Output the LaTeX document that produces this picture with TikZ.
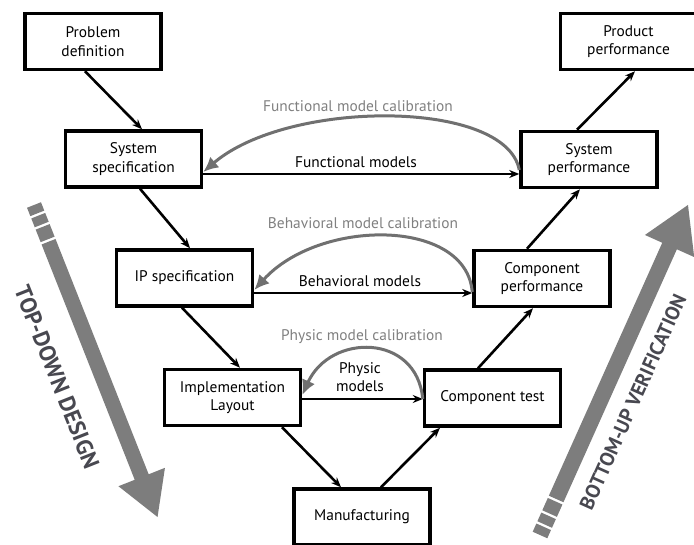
\documentclass[tikz,border=0pt]{standalone}
\usepackage{fontspec}
\setmainfont{PT Sans}
\usetikzlibrary{arrows.meta}

\definecolor{bigarrow}{RGB}{125,125,125}
\definecolor{calib}{RGB}{112,112,112}
\definecolor{calibtext}{RGB}{128,128,128}
\definecolor{phasetext}{RGB}{72,72,80}

% broad grey arrow with a striped tail:
% #1 tail point, #2 angle, #3 length, #4 half shaft width, #5 half head width, #6 head length
\newcommand{\phasearrow}[6]{%
  \begin{scope}[shift={#1}, rotate=#2]
    \fill[bigarrow] (0,-#4) rectangle (9,#4);
    \fill[bigarrow] (11.5,-#4) rectangle (21,#4);
    \fill[bigarrow] (23.5,-#4) rectangle (37,#4);
    \fill[bigarrow] (39.5,-#4) -- (#3-#6,-#4) -- (#3-#6,-#5) -- (#3,0)
      -- (#3-#6,#5) -- (#3-#6,#4) -- (39.5,#4) -- cycle;
  \end{scope}}

\begin{document}
\begin{tikzpicture}[x=1pt,y=-1pt,
  box/.style={draw, line width=3.5pt, minimum width=136pt, minimum height=56pt,
    inner sep=0pt, align=center, font=\fontsize{15.4}{18.5}\selectfont},
  flow/.style={line width=2.6pt, -{Stealth[length=10pt,width=8pt]}},
  calarc/.style={draw=calib, line width=3pt, -{Latex[length=15pt,width=14pt]}},
  lbl/.style={font=\fontsize{15.4}{18.5}\selectfont, align=center, inner sep=0pt},
  cal/.style={lbl, text=calibtext},
  phase/.style={text=phasetext, inner sep=0pt}]
\useasboundingbox (0,0) rectangle (694,545);

% phase arrows
\phasearrow{(34,205)}{-68.4}{335.6}{7.5}{25}{43}
\phasearrow{(540,535)}{65.85}{361.7}{8}{27}{45}
\node[phase, rotate=-68.4, font=\fontsize{23}{23}\selectfont\bfseries] (td) at (57,377) {TOP-DOWN DESIGN};
\node[phase, rotate=65.85, font=\fontsize{20}{20}\selectfont\bfseries] (bu) at (633,402) {BOTTOM-UP VERIFICATION};

% process boxes
\node[box] (prob)     at (93,41.5)    {Problem\\definition};
\node[box] (prod)     at (628.5,41.5) {Product\\performance};
\node[box] (sysspec)  at (133.5,159)  {System\\specification};
\node[box] (sysperf)  at (589,159.5)  {System\\performance};
\node[box] (ip)       at (184.5,278)  {IP specification};
\node[box] (compperf) at (542,278.5)  {Component\\performance};
\node[box] (impl)     at (232.5,397.5){Implementation\\Layout};
\node[box] (comptest) at (492.5,398)  {Component test};
\node[box] (manu)     at (362,517)    {Manufacturing};

% V-flow
\draw[flow] ([xshift=-8pt]prob.south) -- ([xshift=8.5pt]sysspec.north);
\draw[flow] ([xshift=6.5pt]sysspec.south) -- ([xshift=5.5pt]ip.north);
\draw[flow] ([xshift=-2.5pt]ip.south) -- ([xshift=7.5pt]impl.north);
\draw[flow] ([xshift=49.5pt]impl.south) -- ([xshift=-21pt]manu.north);
\draw[flow] ([xshift=19pt]manu.north) -- ([xshift=-52.5pt]comptest.south);
\draw[flow] ([xshift=-14.5pt]comptest.north) -- ([xshift=-9pt]compperf.south);
\draw[flow] ([xshift=-15pt]compperf.north) -- ([xshift=-9pt]sysperf.south);
\draw[flow] ([xshift=-12pt]sysperf.north) -- ([xshift=6.5pt]prod.south);

% model links
\draw[flow] ([yshift=-15pt]sysspec.east) -- ([yshift=-14.5pt]sysperf.west);
\draw[flow] ([yshift=-15pt]ip.east) -- ([yshift=-14.5pt]compperf.west);
\draw[flow] ([yshift=-1.5pt]impl.east) -- ([yshift=-1pt]comptest.west);
\node[lbl] (fm) at (356,162) {Functional models};
\node[lbl] (bm) at (360,281) {Behavioral models};
\node[lbl] (pm) at (360,377) {Physic\\models};

% calibration loops
\draw[calarc] ([yshift=-10.5pt]sysperf.west) .. controls +(-13,-71) and +(85,-73) .. ([yshift=-13pt]sysspec.east);
\draw[calarc] ([yshift=-13.5pt]compperf.west) .. controls +(-6,-74) and +(65,-72) .. ([yshift=-12pt]ip.east);
\draw[calarc] ([yshift=-1pt]comptest.west) .. controls +(-6,-66) and +(28,-62) .. ([yshift=2.5pt]impl.east);
\node[cal] (fc) at (358,106) {Functional model calibration};
\node[cal] (bc) at (363,223) {Behavioral model calibration};
\node[cal] (pc) at (362,337) {Physic model calibration};
\end{tikzpicture}
\end{document}
